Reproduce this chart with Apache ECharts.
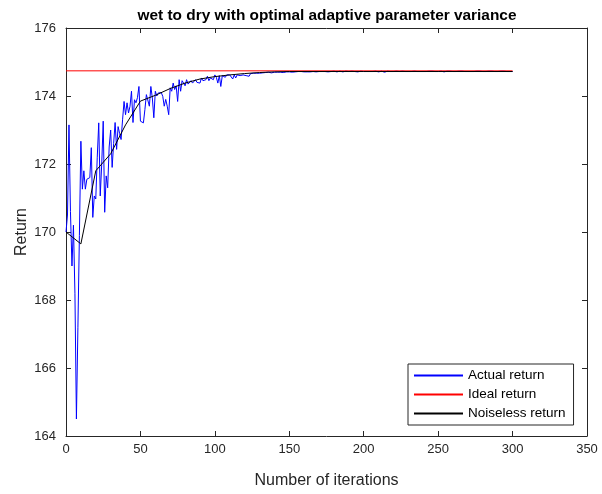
<!DOCTYPE html>
<html>
<head>
<meta charset="utf-8">
<script src="https://cdn.jsdelivr.net/npm/echarts@6/dist/echarts.min.js"></script>
<style>
html,body{margin:0;padding:0;background:#fff;}
#chart{width:602px;height:494px;}
</style>
</head>
<body>
<div id="chart"></div>
<script>
// Actual return, one value per iteration starting at iteration 0
var actualReturn = [
170.0, 170.5, 173.15, 170.6, 169.0, 170.2, 168.2, 164.5, 167.2, 169.9,
172.67, 171.26, 171.8, 171.26, 171.55, 171.5, 171.6, 172.48, 170.43, 171.06,
170.97, 172.2, 173.21, 171.06, 172.0, 173.26, 170.58, 171.65, 171.3, 172.5,
173.0, 171.9, 172.6, 173.22, 172.43, 173.1, 172.9, 172.72, 173.3, 173.84,
173.45, 173.8, 173.5, 173.7, 174.14, 173.22, 173.89, 173.8, 173.95, 174.28,
173.26, 173.21, 173.21, 173.6, 174.04, 174.09, 173.7, 174.28, 173.94, 173.36,
174.14, 174.0, 174.09, 174.04, 174.1, 173.99, 173.7, 173.9, 173.7, 173.45,
174.24, 174.14, 174.38, 174.19, 174.3, 173.84, 174.48, 174.14, 174.45, 174.38,
174.3, 174.48, 174.35, 174.4, 174.45, 174.38, 174.42, 174.48, 174.4, 174.45,
174.38, 174.53, 174.45, 174.5, 174.48, 174.58, 174.45, 174.53, 174.5, 174.48,
174.62, 174.55, 174.38, 174.6, 174.28, 174.6, 174.58, 174.55, 174.62, 174.6,
174.62, 174.58, 174.5, 174.62, 174.53, 174.62, 174.63, 174.6, 174.64, 174.62,
174.63, 174.6, 174.64, 174.58, 174.66, 174.65, 174.67, 174.66, 174.67, 174.68,
174.67, 174.66, 174.68, 174.67, 174.69, 174.68, 174.7, 174.69, 174.68, 174.69,
174.7, 174.66, 174.7, 174.69, 174.7, 174.71, 174.69, 174.7, 174.71, 174.68,
174.71,
174.71, 174.70, 174.72, 174.71, 174.70, 174.72, 174.71, 174.72, 174.70, 174.71,
174.72, 174.71, 174.73, 174.71, 174.70, 174.72, 174.72, 174.71, 174.73, 174.72,
174.71, 174.72, 174.70, 174.72, 174.73, 174.71, 174.72, 174.72, 174.71, 174.73,
174.72, 174.71, 174.72, 174.73, 174.72, 174.71, 174.72, 174.73, 174.72, 174.72,
174.71, 174.73, 174.72, 174.72, 174.73, 174.71, 174.72, 174.73, 174.72, 174.72,
174.73, 174.72, 174.71, 174.72, 174.73, 174.72, 174.72, 174.73, 174.72, 174.71,
174.72, 174.73, 174.72, 174.70, 174.72, 174.73, 174.72, 174.72, 174.73, 174.72,
174.72, 174.73, 174.72, 174.72, 174.71, 174.73, 174.72, 174.72, 174.73, 174.72,
174.73, 174.72, 174.72, 174.73, 174.72, 174.72, 174.73, 174.72, 174.71, 174.72,
174.73, 174.72, 174.72, 174.73, 174.72, 174.73, 174.72, 174.72, 174.73, 174.72,
174.72, 174.73, 174.72, 174.71, 174.72, 174.73, 174.72, 174.73, 174.72, 174.72,
174.73, 174.72, 174.72, 174.73, 174.72, 174.73, 174.72, 174.72, 174.71, 174.72,
174.73, 174.72, 174.73, 174.72, 174.72, 174.73, 174.72, 174.73, 174.72, 174.72,
174.73, 174.72, 174.72, 174.73, 174.72, 174.73, 174.72, 174.72, 174.73, 174.72,
174.72, 174.73, 174.72, 174.73, 174.72, 174.72, 174.73, 174.72, 174.73, 174.72
];
var firstIteration = 0;

var idealIter = [0, 300];
var idealReturn = [174.74, 174.74];

var noiselessIter = [0, 10, 20, 30, 40, 50, 60, 70, 80, 90, 100, 110, 120, 130, 140, 150, 200, 250, 300];
var noiselessReturn = [170.0, 169.65, 171.8, 172.3, 173.15, 173.85, 174.02, 174.22, 174.38, 174.5, 174.57, 174.62, 174.66, 174.69, 174.71, 174.72, 174.72, 174.72, 174.72];

var xTicks = [0, 50, 100, 150, 200, 250, 300, 350];
var yTicks = [164, 166, 168, 170, 172, 174, 176];

var seriesNames = ['Actual return', 'Ideal return', 'Noiseless return'];
var seriesColors = ['#0000ff', '#ff0000', '#000000'];

function pairs(xs, ys) { return ys.map(function (v, i) { return [xs[i], v]; }); }
var actualPairs = actualReturn.map(function (v, i) { return [firstIteration + i, v]; });

var axisColor = '#262626';
var font = "'Liberation Sans', Arial, Helvetica, sans-serif";

var chart = echarts.init(document.getElementById('chart'), null, {renderer: 'canvas'});
var baseX = {
  type: 'value', min: xTicks[0], max: xTicks[xTicks.length - 1], interval: 50,
  axisLine: {show: true, onZero: false, lineStyle: {color: axisColor, width: 1}},
  axisTick: {show: true, inside: true, length: 5, lineStyle: {color: axisColor}},
  splitLine: {show: false}
};
var baseY = {
  type: 'value', min: yTicks[0], max: yTicks[yTicks.length - 1], interval: 2,
  axisLine: {show: true, onZero: false, lineStyle: {color: axisColor, width: 1}},
  axisTick: {show: true, inside: true, length: 5, lineStyle: {color: axisColor}},
  splitLine: {show: false}
};

chart.setOption({
  animation: false,
  backgroundColor: '#ffffff',
  title: {
    text: 'wet to dry with optimal adaptive parameter variance',
    left: 322, top: 3, textAlign: 'center',
    textStyle: {fontFamily: font, fontSize: 15.4, fontWeight: 'bold', color: '#000'}
  },
  grid: {left: 66, right: 15, top: 28, bottom: 56, containLabel: false},
  legend: {
    data: seriesNames,
    orient: 'vertical',
    left: 408, top: 364,
    itemWidth: 49, itemHeight: 13, itemGap: 4,
    itemStyle: {opacity: 0},
    padding: [4, 8, 4, 5],
    borderColor: axisColor, borderWidth: 1, backgroundColor: '#fff', borderRadius: 0,
    textStyle: {fontFamily: font, fontSize: 13.5, color: '#000', lineHeight: 15}
  },
  xAxis: [
    Object.assign({}, baseX, {
      position: 'bottom',
      name: 'Number of iterations', nameLocation: 'middle', nameGap: 37, nameMoveOverlap: false,
      nameTextStyle: {fontFamily: font, fontSize: 16, color: axisColor},
      axisLabel: {show: true, margin: 7, fontFamily: font, fontSize: 13, color: axisColor}
    }),
    Object.assign({}, baseX, {position: 'top', axisLabel: {show: false}})
  ],
  yAxis: [
    Object.assign({}, baseY, {
      position: 'left',
      name: 'Return', nameLocation: 'middle', nameGap: 36, nameRotate: 90, nameMoveOverlap: false,
      nameTextStyle: {fontFamily: font, fontSize: 16, color: axisColor},
      axisLabel: {show: true, margin: 10, fontFamily: font, fontSize: 13, color: axisColor}
    }),
    Object.assign({}, baseY, {position: 'right', axisLabel: {show: false}})
  ],
  series: [
    {
      name: seriesNames[0], type: 'line', data: actualPairs,
      symbol: 'none', showSymbol: false, color: seriesColors[0],
      lineStyle: {color: seriesColors[0], width: 1}, itemStyle: {color: seriesColors[0]}, z: 2
    },
    {
      name: seriesNames[1], type: 'line', data: pairs(idealIter, idealReturn),
      symbol: 'none', showSymbol: false, color: seriesColors[1],
      lineStyle: {color: seriesColors[1], width: 1}, itemStyle: {color: seriesColors[1]}, z: 3
    },
    {
      name: seriesNames[2], type: 'line', data: pairs(noiselessIter, noiselessReturn),
      symbol: 'none', showSymbol: false, color: seriesColors[2],
      lineStyle: {color: seriesColors[2], width: 1}, itemStyle: {color: seriesColors[2]}, z: 4
    }
  ]
});
</script>
</body>
</html>
